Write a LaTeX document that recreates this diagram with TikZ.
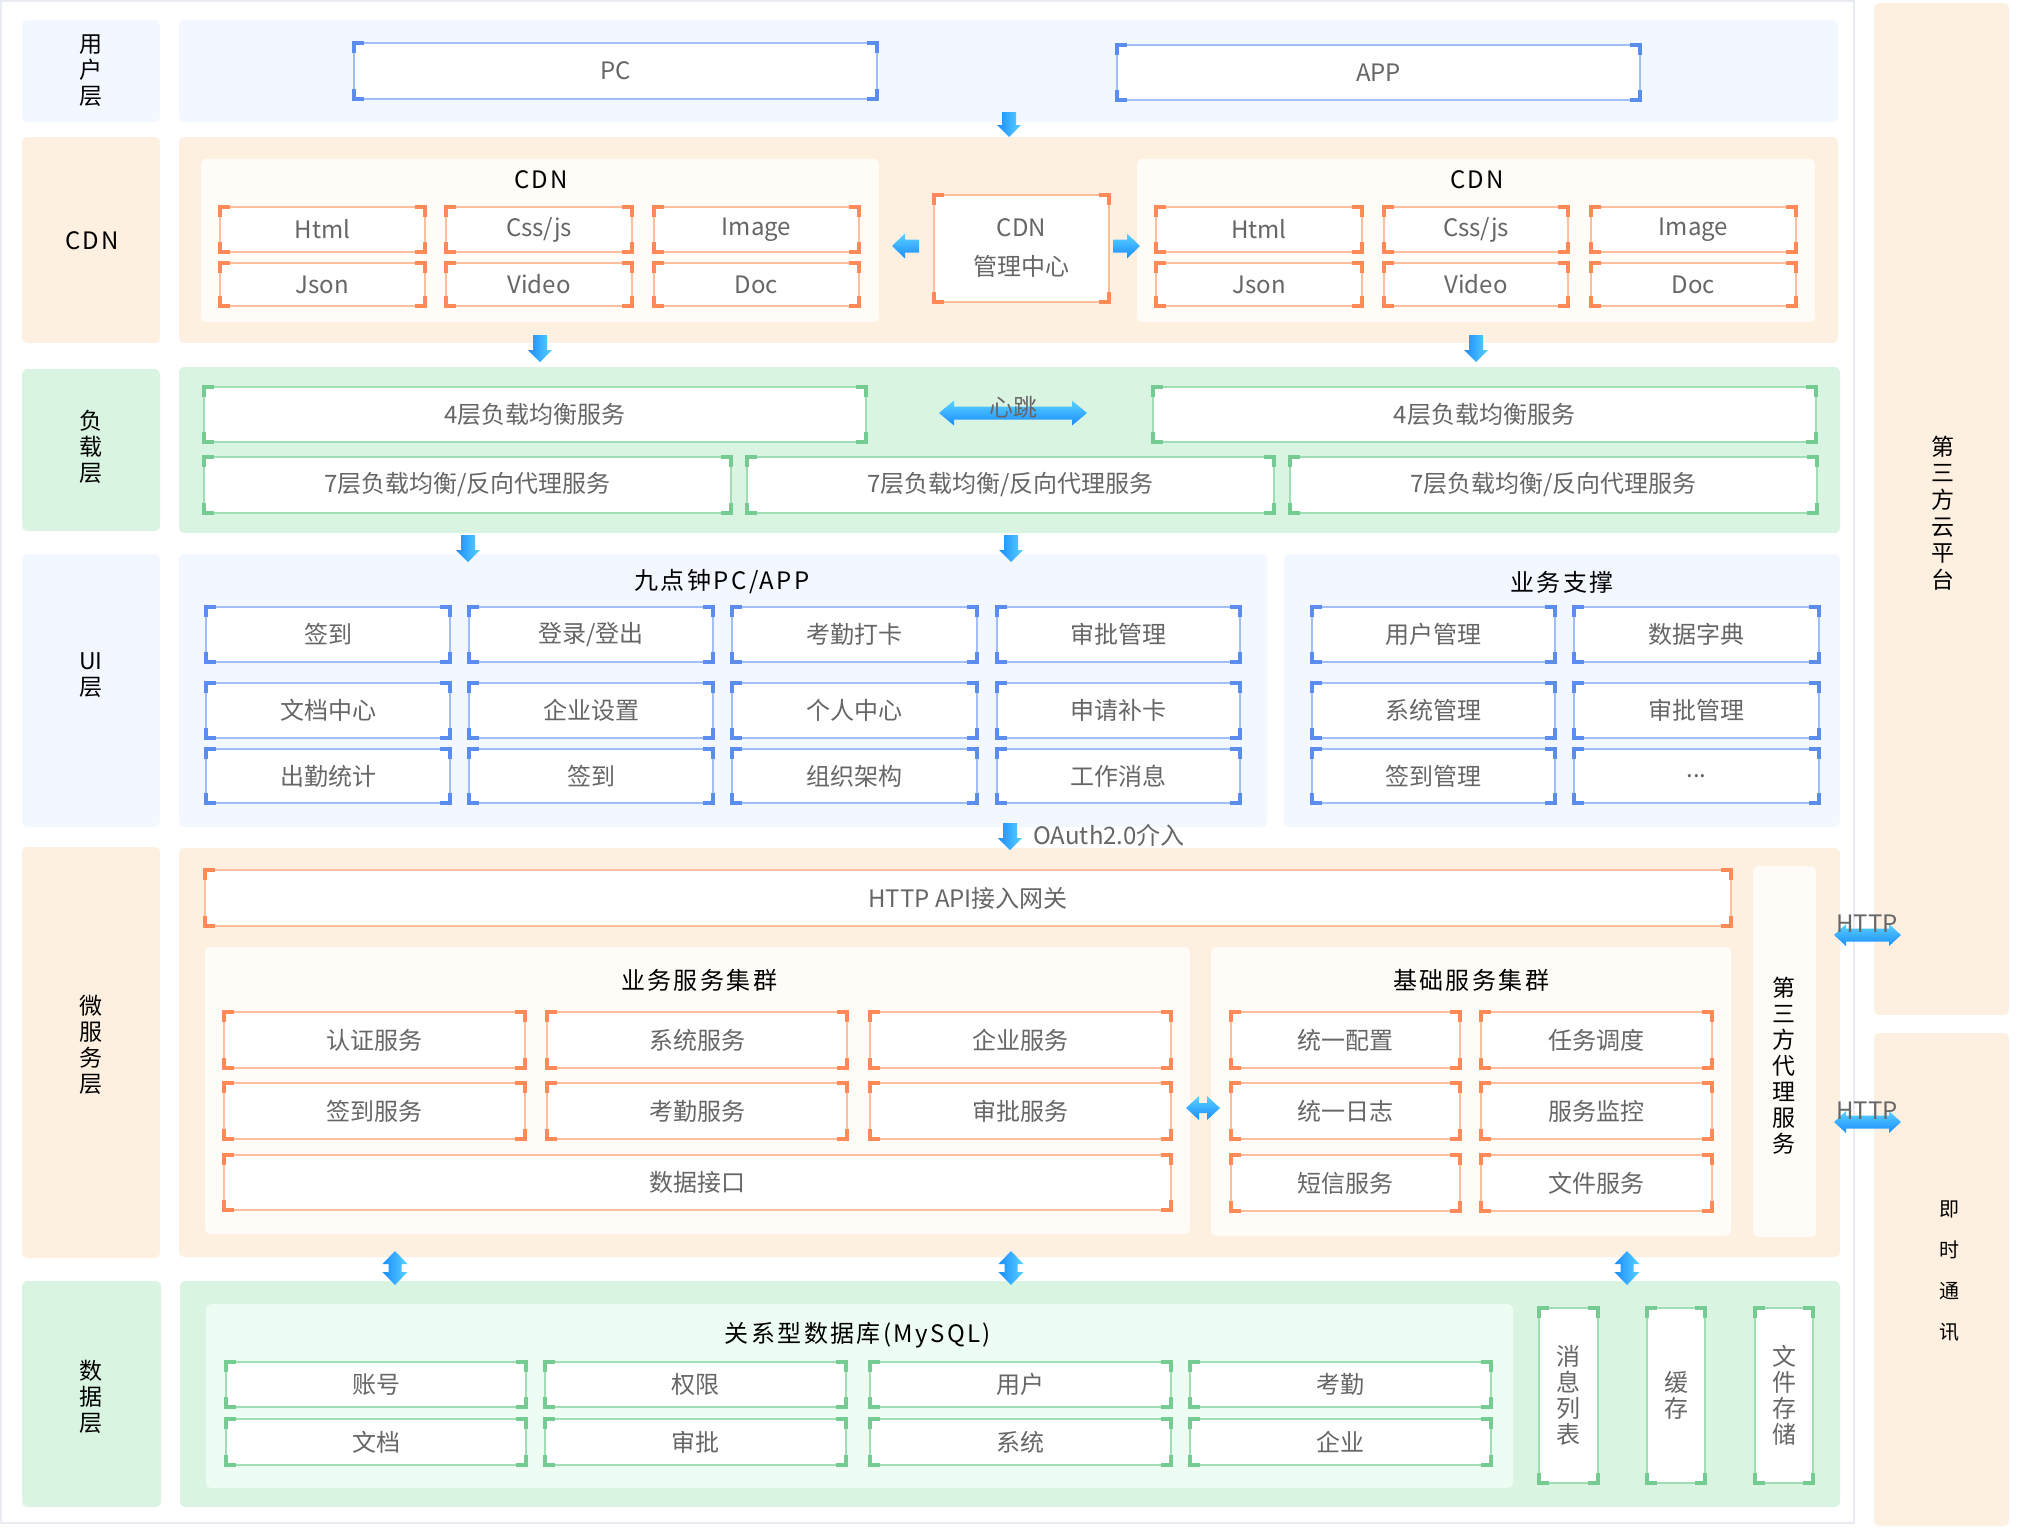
\documentclass[tikz,border=0pt]{standalone}
\usepackage{fontspec}
\setmainfont{Noto Sans CJK SC}
\newfontfamily\tfont[LetterSpace=10]{Noto Sans CJK SC}
\definecolor{bluebg}{HTML}{F3F7FF}
\definecolor{orgbg}{HTML}{FEF0E1}
\definecolor{orgin}{HTML}{FFFBF6}
\definecolor{grnbg}{HTML}{D9F5E1}
\definecolor{grnin}{HTML}{EEFDF3}
\definecolor{blueln}{HTML}{A2BEF8}
\definecolor{bluecn}{HTML}{5B8DEF}
\definecolor{orgln}{HTML}{FFBE9E}
\definecolor{orgcn}{HTML}{FF8A58}
\definecolor{grnln}{HTML}{A0DEB6}
\definecolor{grncn}{HTML}{74CC93}
\definecolor{txt}{HTML}{666666}
\definecolor{arrA}{HTML}{1A8CFF}
\definecolor{arrB}{HTML}{5AD2FF}
\definecolor{outerln}{HTML}{E8EBF2}
\tikzset{
  bbox/.style={draw=#1ln, line width=0.9pt, fill=white, text=txt,
    font=\fontsize{12}{13}\selectfont, inner sep=0pt, outer sep=0pt, align=center},
  crn/.style={draw=#1cn, line width=1.6pt},
  rc/.style={rounded corners=2.5pt},
  lab/.style={text=black, font=\fontsize{11.5}{13}\selectfont, align=center, inner sep=0pt},
  ttl/.style={text=black, font=\tfont\fontsize{12}{14}\selectfont, inner sep=0pt},
  gtxt/.style={text=txt, font=\fontsize{12}{14}\selectfont, inner sep=0pt},
  arr/.style={left color=arrA, right color=arrB},
  arrh/.style={top color=arrB, bottom color=arrA},
}
% box with corner brackets: theme, name, x1, y1, x2, y2, text
\newcommand\bx[7]{%
  \node[bbox=#1, anchor=north west, minimum width={(#5-#3)*0.5pt}, minimum height={(#6-#4)*0.5pt}] (#2) at (#3,#4) {#7};
  \draw[crn=#1] (#2.north west) ++(0,10) -- ++(0,-10) -- ++(10,0);
  \draw[crn=#1] (#2.north east) ++(-10,0) -- ++(10,0) -- ++(0,10);
  \draw[crn=#1] (#2.south east) ++(0,-10) -- ++(0,10) -- ++(-10,0);
  \draw[crn=#1] (#2.south west) ++(10,0) -- ++(-10,0) -- ++(0,-10);
}
% down arrow: cx, ytop, ybot
\newcommand\arrD[3]{\shade[arr] (#1-7,#2) -- (#1+7,#2) -- (#1+7,#3-12) -- (#1+12,#3-12) -- (#1,#3) -- (#1-12,#3-12) -- (#1-7,#3-12) -- cycle;}
% left arrow: xtip, xend, cy
\newcommand\arrL[3]{\shade[arrh] (#2,#3-6.5) -- (#1+13,#3-6.5) -- (#1+13,#3-12.5) -- (#1,#3) -- (#1+13,#3+12.5) -- (#1+13,#3+6.5) -- (#2,#3+6.5) -- cycle;}
% right arrow: xend, xtip, cy
\newcommand\arrR[3]{\shade[arrh] (#1,#3-6.5) -- (#2-13,#3-6.5) -- (#2-13,#3-12.5) -- (#2,#3) -- (#2-13,#3+12.5) -- (#2-13,#3+6.5) -- (#1,#3+6.5) -- cycle;}
% double horizontal: x1, x2, cy, headlen, headhalf, shafthalf
\newcommand\arrH[6]{\shade[arrh] (#1,#3) -- (#1+#4,#3-#5) -- (#1+#4,#3-#6) -- (#2-#4,#3-#6) -- (#2-#4,#3-#5) -- (#2,#3) -- (#2-#4,#3+#5) -- (#2-#4,#3+#6) -- (#1+#4,#3+#6) -- (#1+#4,#3+#5) -- cycle;}
% double vertical: cx, y1, y2, headlen, headhalf, shafthalf
\newcommand\arrV[6]{\shade[arr] (#1,#2) -- (#1+#5,#2+#4) -- (#1+#6,#2+#4) -- (#1+#6,#3-#4) -- (#1+#5,#3-#4) -- (#1,#3) -- (#1-#5,#3-#4) -- (#1-#6,#3-#4) -- (#1-#6,#2+#4) -- (#1-#5,#2+#4) -- cycle;}
\begin{document}
\begin{tikzpicture}[x=0.5pt,y=-0.5pt]
\useasboundingbox (0,0) rectangle (2022,1538);
\fill[white] (0,0) rectangle (2022,1538);
\draw[outerln, line width=0.8pt] (1,1) rectangle (1854,1523);

% ===== user layer
\fill[bluebg, rc] (22,20) rectangle (160,122);
\node[lab] (Luser) at (91,71) {用\\户\\层};
\fill[bluebg, rc] (179,20) rectangle (1838,122);
\bx{blue}{pc}{354}{43}{877}{99}{PC}
\bx{blue}{app}{1117}{45}{1640}{100}{APP}

% ===== CDN layer
\fill[orgbg, rc] (22,137) rectangle (160,343);
\node[ttl] (Lcdn) at (92,241) {CDN};
\fill[orgbg, rc] (179,137) rectangle (1838,343);
\fill[orgin, rc] (201,159) rectangle (879,322);
\node[ttl] (tcdn1) at (541,180) {CDN};
\bx{org}{h1}{220}{207}{425}{252}{Html}
\bx{org}{c1}{446}{207}{632}{252}{Css/js}
\bx{org}{i1}{654}{207}{859}{252}{Image}
\bx{org}{j1}{220}{263}{425}{306}{Json}
\bx{org}{v1}{446}{263}{632}{306}{Video}
\bx{org}{d1}{654}{263}{859}{306}{Doc}
\bx{org}{mgr}{934}{195}{1109}{302}{CDN\\[6.5pt]管理中心}
\fill[orgin, rc] (1137,159) rectangle (1815,322);
\node[ttl] (tcdn2) at (1477,180) {CDN};
\bx{org}{h2}{1156}{207}{1362}{252}{Html}
\bx{org}{c2}{1384}{207}{1568}{252}{Css/js}
\bx{org}{i2}{1591}{207}{1796}{252}{Image}
\bx{org}{j2}{1156}{263}{1362}{306}{Json}
\bx{org}{v2}{1384}{263}{1568}{306}{Video}
\bx{org}{d2}{1591}{263}{1796}{306}{Doc}

% ===== load layer
\fill[grnbg, rc] (22,369) rectangle (160,531);
\node[lab] (Lload) at (91,447) {负\\载\\层};
\fill[grnbg, rc] (179,367) rectangle (1840,533);
\bx{grn}{lfa}{204}{387}{866}{442}{4层负载均衡服务}
\bx{grn}{lfb}{1153}{387}{1816}{442}{4层负载均衡服务}
\bx{grn}{lsa}{204}{457}{731}{513}{7层负载均衡/反向代理服务}
\bx{grn}{lsb}{747}{457}{1274}{513}{7层负载均衡/反向代理服务}
\bx{grn}{lsc}{1290}{457}{1817}{513}{7层负载均衡/反向代理服务}

% ===== UI layer
\fill[bluebg, rc] (22,554) rectangle (160,827);
\node[lab] (Lui) at (91,675) {UI\\层};
\fill[bluebg, rc] (179,554) rectangle (1267,827);
\fill[bluebg, rc] (1284,554) rectangle (1840,827);
\node[ttl] (tjd) at (722,582) {九点钟PC/APP};
\node[ttl] (tyw) at (1562,582) {业务支撑};
\bx{blue}{ua}{206}{607}{450}{662}{签到}
\bx{blue}{ub}{469}{607}{713}{662}{登录/登出}
\bx{blue}{uc}{732}{607}{977}{662}{考勤打卡}
\bx{blue}{ud}{997}{607}{1240}{662}{审批管理}
\bx{blue}{ue}{206}{683}{450}{738}{文档中心}
\bx{blue}{uf}{469}{683}{713}{738}{企业设置}
\bx{blue}{ug}{732}{683}{977}{738}{个人中心}
\bx{blue}{uh}{997}{683}{1240}{738}{申请补卡}
\bx{blue}{ui}{206}{749}{450}{803}{出勤统计}
\bx{blue}{uj}{469}{749}{713}{803}{签到}
\bx{blue}{uk}{732}{749}{977}{803}{组织架构}
\bx{blue}{ul}{997}{749}{1240}{803}{工作消息}
\bx{blue}{sa}{1312}{607}{1555}{662}{用户管理}
\bx{blue}{sb}{1574}{607}{1819}{662}{数据字典}
\bx{blue}{sc}{1312}{683}{1555}{738}{系统管理}
\bx{blue}{sd}{1574}{683}{1819}{738}{审批管理}
\bx{blue}{se}{1312}{749}{1555}{803}{签到管理}
\bx{blue}{sf}{1574}{749}{1819}{803}{\raisebox{-2pt}{...}}

% ===== micro-service layer
\fill[orgbg, rc] (22,847) rectangle (160,1258);
\node[lab] (Lms) at (91,1045) {微\\服\\务\\层};
\fill[orgbg, rc] (179,848) rectangle (1840,1257);
\bx{org}{gw}{205}{870}{1731}{926}{HTTP API接入网关}
\fill[orgin, rc] (205,947) rectangle (1190,1234);
\node[ttl] (tbiz) at (699,980) {业务服务集群};
\fill[orgin, rc] (1211,947) rectangle (1731,1236);
\node[ttl] (tbase) at (1471,980) {基础服务集群};
\bx{org}{ma}{224}{1012}{525}{1068}{认证服务}
\bx{org}{mb}{547}{1012}{847}{1068}{系统服务}
\bx{org}{mc}{870}{1012}{1171}{1068}{企业服务}
\bx{org}{md}{224}{1083}{525}{1139}{签到服务}
\bx{org}{me}{547}{1083}{847}{1139}{考勤服务}
\bx{org}{mf}{870}{1083}{1171}{1139}{审批服务}
\bx{org}{mg}{224}{1155}{1171}{1210}{数据接口}
\bx{org}{ba}{1231}{1012}{1460}{1068}{统一配置}
\bx{org}{bb}{1481}{1012}{1712}{1068}{任务调度}
\bx{org}{bc}{1231}{1083}{1460}{1139}{统一日志}
\bx{org}{bd}{1481}{1083}{1712}{1139}{服务监控}
\bx{org}{be}{1231}{1155}{1460}{1211}{短信服务}
\bx{org}{bf}{1481}{1155}{1712}{1211}{文件服务}
\fill[orgin, rc] (1753,866) rectangle (1816,1237);
\node[lab] (tproxy) at (1784,1066) {第\\三\\方\\代\\理\\服\\务};

% ===== data layer
\fill[grnbg, rc] (22,1281) rectangle (161,1507);
\node[lab] (Ldata) at (91,1397) {数\\据\\层};
\fill[grnbg, rc] (180,1281) rectangle (1840,1507);
\fill[grnin, rc] (206,1304) rectangle (1513,1488);
\node[ttl] (tdb) at (858,1335) {关系型数据库(MySQL)};
\bx{grn}{da}{226}{1362}{526}{1407}{账号}
\bx{grn}{db}{545}{1362}{846}{1407}{权限}
\bx{grn}{dc}{870}{1362}{1171}{1407}{用户}
\bx{grn}{dd}{1190}{1362}{1491}{1407}{考勤}
\bx{grn}{de}{226}{1419}{526}{1465}{文档}
\bx{grn}{df}{545}{1419}{846}{1465}{审批}
\bx{grn}{dg}{870}{1419}{1171}{1465}{系统}
\bx{grn}{dh}{1190}{1419}{1491}{1465}{企业}
\bx{grn}{dmq}{1539}{1308}{1598}{1483}{\fontsize{12}{12}\selectfont 消\\息\\列\\表}
\bx{grn}{dca}{1647}{1308}{1705}{1483}{\fontsize{12}{12.5}\selectfont 缓\\存}
\bx{grn}{dfs}{1755}{1308}{1813}{1483}{\fontsize{12}{12}\selectfont 文\\件\\存\\储}

% ===== right column
\fill[orgbg, rc] (1874,3) rectangle (2009,1015);
\node[lab, font=\fontsize{11.5}{13.3}\selectfont] (tcloud) at (1943,513) {第\\三\\方\\云\\平\\台};
\fill[orgbg, rc] (1874,1033) rectangle (2009,1526);
\node[lab, font=\fontsize{10}{20.5}\selectfont] (tim) at (1949,1271) {即\\时\\通\\讯};

% ===== arrows
\arrD{1009}{112}{137}
\arrL{892}{919}{246}
\arrR{1113}{1140}{246}
\arrD{540}{335}{362}
\arrD{1476}{335}{362}
\arrH{939}{1087}{413}{15}{12.5}{6.5}
\node[gtxt] (hb) at (1013,407) {心跳};
\arrD{468}{535}{562}
\arrD{1011}{535}{562}
\arrD{1010}{823}{850}
\node[gtxt, anchor=west] (oauth) at (1033,835) {OAuth2.0介入};
\arrH{1186}{1220}{1108}{13}{12}{5}
\arrH{1834}{1901}{935}{12}{11}{6.5}
\arrH{1834}{1901}{1122}{12}{11}{6.5}
\node[gtxt] (http1) at (1867,924) {HTTP};
\node[gtxt] (http2) at (1867,1111) {HTTP};
\arrV{395}{1251}{1285}{13}{12.5}{6.5}
\arrV{1011}{1251}{1285}{13}{12.5}{6.5}
\arrV{1627}{1251}{1285}{13}{12.5}{6.5}
\end{tikzpicture}
\end{document}
